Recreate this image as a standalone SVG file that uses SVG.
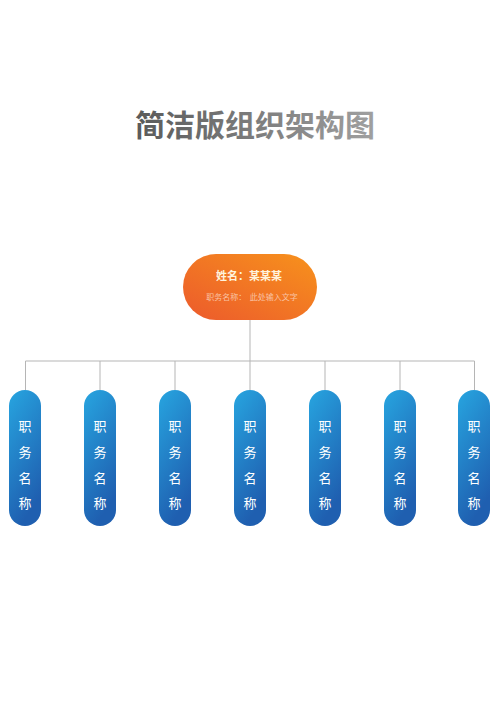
<svg xmlns="http://www.w3.org/2000/svg" width="500" height="707" viewBox="0 0 500 707">
<defs>
<linearGradient id="gTitle" x1="0" y1="0" x2="1" y2="0">
<stop offset="0" stop-color="#5a5a5a"/>
<stop offset="1" stop-color="#a0a0a0"/>
</linearGradient>
<linearGradient id="gOrange" x1="0" y1="1" x2="1" y2="0">
<stop offset="0" stop-color="#ec5a2c"/>
<stop offset="1" stop-color="#f7921c"/>
</linearGradient>
<linearGradient id="gBlue" x1="0" y1="0" x2="0.35" y2="1">
<stop offset="0" stop-color="#27a5e0"/>
<stop offset="1" stop-color="#1f5fb0"/>
</linearGradient>
</defs>
<style>
.pill{fill:url(#gBlue)}
.pt{font-family:"Noto Sans CJK SC","Noto Sans",sans-serif;font-size:13px;fill:#ffffff;text-anchor:middle}
.ln{stroke:#b5b5b5;stroke-width:1;fill:none}
</style>
<rect width="500" height="707" fill="#ffffff"/>
<text x="255" y="136" text-anchor="middle" font-family="Noto Sans CJK SC, sans-serif" font-size="30" font-weight="bold" fill="url(#gTitle)">简洁版组织架构图</text>
<g id="connectors">
<path class="ln" d="M250 320V361M25.5 361H474.5M25.5 361V390M100 361V390M175 361V390M250 361V390M325 361V390M400 361V390M474.5 361V390"/>
</g>
<g id="root">
<rect x="183" y="254" width="134" height="66" rx="33" fill="url(#gOrange)"/>
<text x="249" y="280" text-anchor="middle" font-family="Noto Sans CJK SC, sans-serif" font-size="11" font-weight="bold" fill="#fff3dc">姓名：某某某</text>
<text x="252" y="300" text-anchor="middle" font-family="Noto Sans CJK SC, sans-serif" font-size="8" fill="#f9c3a4" xml:space="preserve">职务名称：  此处输入文字</text>
</g>
<g id="n1"><rect class="pill" x="9" y="390" width="32" height="136" rx="16"/><text class="pt" x="25" y="431">职</text><text class="pt" x="25" y="457">务</text><text class="pt" x="25" y="483">名</text><text class="pt" x="25" y="508">称</text></g>
<g id="n2"><rect class="pill" x="84" y="390" width="32" height="136" rx="16"/><text class="pt" x="100" y="431">职</text><text class="pt" x="100" y="457">务</text><text class="pt" x="100" y="483">名</text><text class="pt" x="100" y="508">称</text></g>
<g id="n3"><rect class="pill" x="159" y="390" width="32" height="136" rx="16"/><text class="pt" x="175" y="431">职</text><text class="pt" x="175" y="457">务</text><text class="pt" x="175" y="483">名</text><text class="pt" x="175" y="508">称</text></g>
<g id="n4"><rect class="pill" x="234" y="390" width="32" height="136" rx="16"/><text class="pt" x="250" y="431">职</text><text class="pt" x="250" y="457">务</text><text class="pt" x="250" y="483">名</text><text class="pt" x="250" y="508">称</text></g>
<g id="n5"><rect class="pill" x="309" y="390" width="32" height="136" rx="16"/><text class="pt" x="325" y="431">职</text><text class="pt" x="325" y="457">务</text><text class="pt" x="325" y="483">名</text><text class="pt" x="325" y="508">称</text></g>
<g id="n6"><rect class="pill" x="384" y="390" width="32" height="136" rx="16"/><text class="pt" x="400" y="431">职</text><text class="pt" x="400" y="457">务</text><text class="pt" x="400" y="483">名</text><text class="pt" x="400" y="508">称</text></g>
<g id="n7"><rect class="pill" x="458" y="390" width="32" height="136" rx="16"/><text class="pt" x="474" y="431">职</text><text class="pt" x="474" y="457">务</text><text class="pt" x="474" y="483">名</text><text class="pt" x="474" y="508">称</text></g>
</svg>
